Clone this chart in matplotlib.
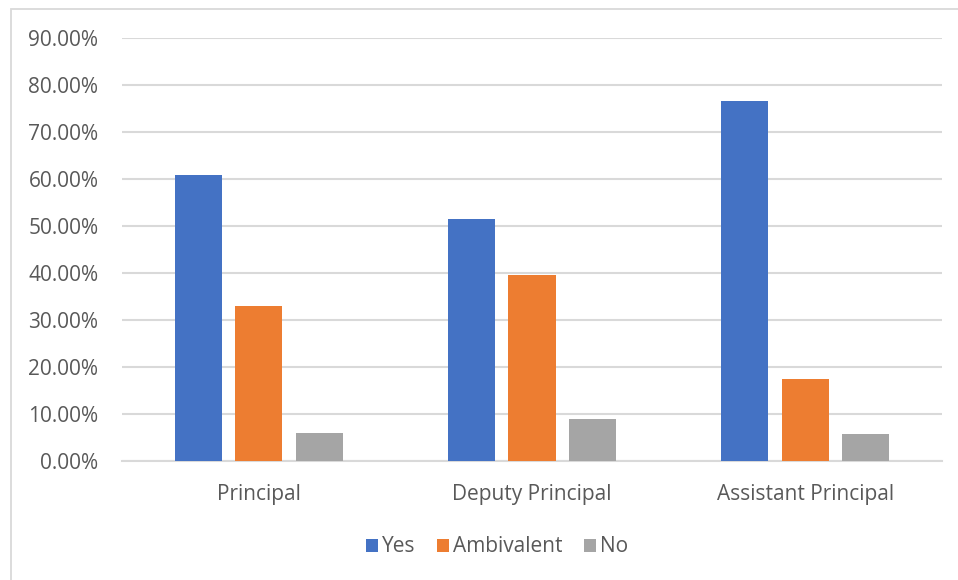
import matplotlib
matplotlib.use("Agg")
import matplotlib.pyplot as plt
import numpy as np
from matplotlib.patches import Patch, Rectangle
from matplotlib.ticker import PercentFormatter

categories = ["Principal", "Deputy Principal", "Assistant Principal"]
series_names = ["Yes", "Ambivalent", "No"]
yes_vals = [60.8, 51.5, 76.6]
amb_vals = [33.1, 39.6, 17.6]
no_vals = [6.0, 9.0, 5.8]
colors = ["#4472C4", "#ED7D31", "#A5A5A5"]
yticks = [0, 10, 20, 30, 40, 50, 60, 70, 80, 90]

plt.rcParams['font.family'] = ['Open Sans', 'DejaVu Sans']
text_color = "#595959"
grid_color = "#D9D9D9"

W, H = 958, 580
fig = plt.figure(figsize=(W / 100, H / 100), dpi=100)
ax = fig.add_axes([122 / W, (H - 461.3) / H, (942 - 122) / W, (461.3 - 38) / H])

x = np.arange(len(categories))
offset = 0.221
width = 0.172
for i, (vals, name, c) in enumerate(zip([yes_vals, amb_vals, no_vals], series_names, colors)):
    ax.bar(x + (i - 1) * offset, vals, width, color=c, label=name, zorder=3)

ax.set_xlim(-0.5, len(categories) - 0.5)
ax.set_ylim(0, 90)
ax.set_yticks(yticks)
ax.yaxis.set_major_formatter(PercentFormatter(decimals=2))
ax.set_xticks(x)
ax.set_xticklabels(categories)

ax.grid(axis='y', color=grid_color, linewidth=1.5, zorder=0)
ax.set_axisbelow(True)
for s in ['top', 'right', 'left']:
    ax.spines[s].set_visible(False)
ax.spines['bottom'].set_color(grid_color)
ax.spines['bottom'].set_linewidth(1.5)
ax.tick_params(axis='both', length=0, labelsize=15, colors=text_color)
ax.tick_params(axis='y', pad=17)
ax.tick_params(axis='x', pad=16)

handles = [Patch(facecolor=c, edgecolor='none') for c in colors]
fig.legend(handles, series_names, loc='center', bbox_to_anchor=(497 / W, 1 - 547 / H),
           ncol=3, frameon=False, fontsize=15, labelcolor=text_color,
           handlelength=0.6, handleheight=0.6, handletextpad=0.2, columnspacing=1.0)

fig.patches.append(Rectangle((11 / W, -0.1), 1.2, 1 - 9 / H + 0.1, transform=fig.transFigure,
                             fill=False, edgecolor=grid_color, linewidth=1.3, clip_on=False))

fig.savefig("out.png", dpi=100, facecolor="white")
